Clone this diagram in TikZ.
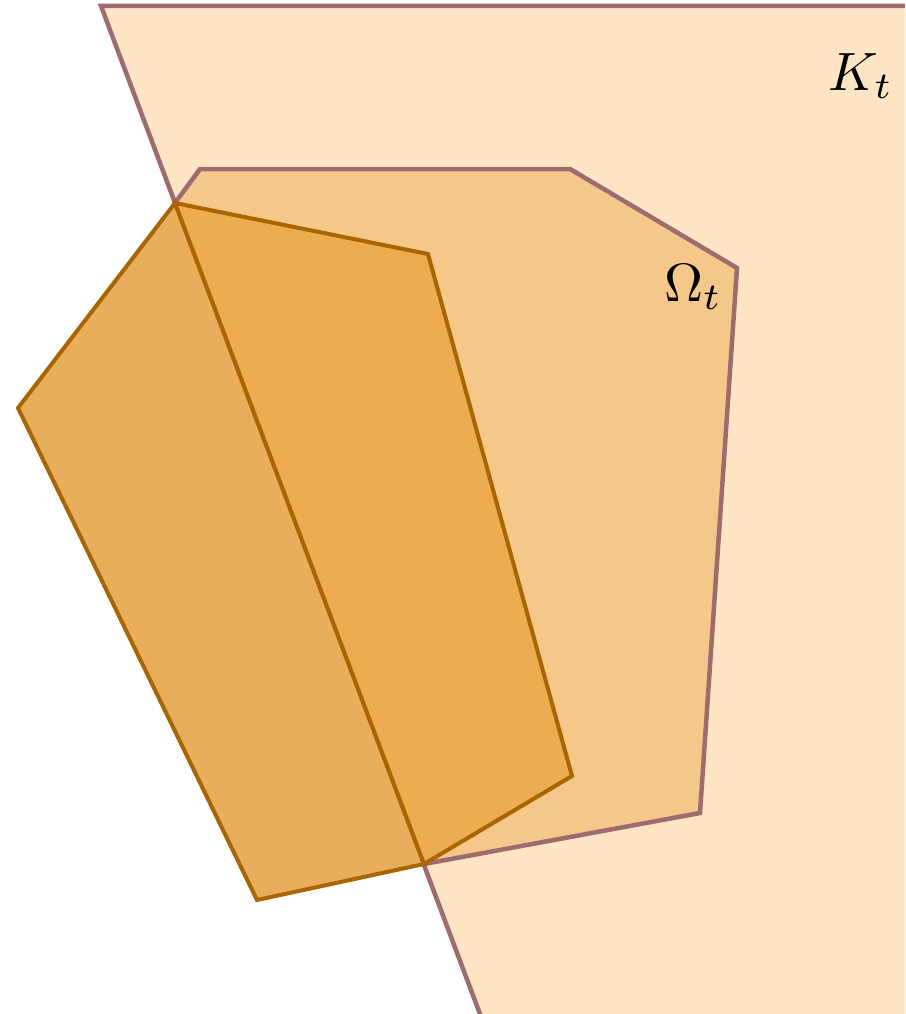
\documentclass[tikz,border=0pt]{standalone}
\begin{document}
\begin{tikzpicture}[x=1pt,y=-1pt,line join=miter,
  kset/.style={fill=kfill,draw=kline,line width=4.5pt},
  oset/.style={fill=ofill,draw=kline,line width=4.5pt},
  pleft/.style={fill=lfill,draw=pline,line width=4pt},
  pright/.style={fill=rfill,draw=pline,line width=4pt},
  lab/.style={scale=5.4,inner sep=0pt}]
\definecolor{kfill}{HTML}{FEE5C3}
\definecolor{kline}{HTML}{9E6B6F}
\definecolor{ofill}{HTML}{F5C88A}
\definecolor{lfill}{HTML}{E9AE5B}
\definecolor{rfill}{HTML}{ECAD51}
\definecolor{pline}{HTML}{A86500}
\useasboundingbox (0,0) rectangle (905,1014);
\begin{scope}
\clip (0,0) rectangle (905,1014);
\draw[kset] (101,6) -- (920,6) -- (920,1030) -- (486,1030) -- cycle;
\draw[oset] (175,203) -- (200,169) -- (570,169) -- (737,268) -- (700,813) -- (424,864) -- cycle;
\draw[pleft] (175,203) -- (18,408) -- (257,900) -- (424,864) -- cycle;
\draw[pright] (175,203) -- (428,254) -- (572,776) -- (424,864) -- cycle;
\end{scope}
\node[lab] (K) at (861,76) {$K_t$};
\node[lab] (O) at (693,287) {$\Omega_t$};
\end{tikzpicture}
\end{document}
